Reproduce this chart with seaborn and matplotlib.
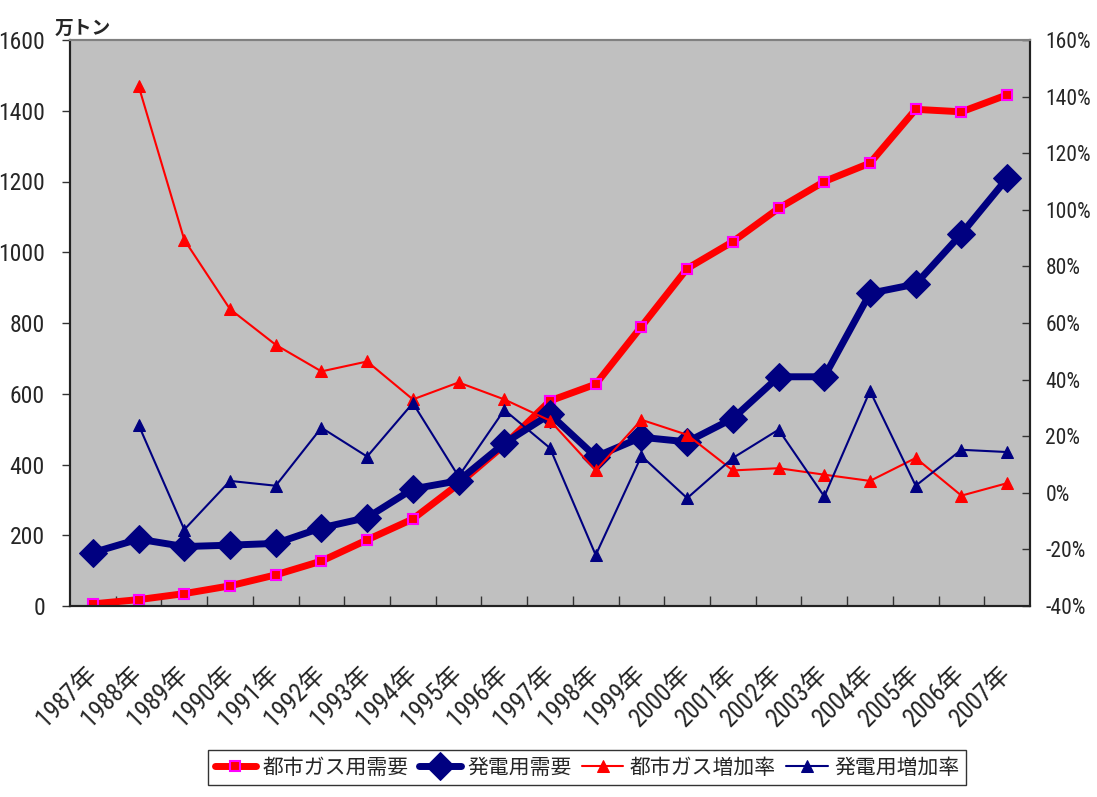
import numpy as np
import pandas as pd
import matplotlib
matplotlib.use("Agg")
import matplotlib.pyplot as plt
from matplotlib import font_manager
from matplotlib.ticker import FixedLocator, FuncFormatter
import seaborn as sns

years = list(range(1987, 2008))
year_labels = [f"{y}年" for y in years]

# 需要量（万トン）
gas_demand = [6, 18, 35, 57, 88, 127, 187, 246, 345, 455, 580,
              627, 790, 954, 1030, 1124, 1200, 1252, 1404, 1397, 1445]
power_demand = [151, 189, 168, 172, 177, 221, 250, 331, 354, 460, 542,
                422, 477, 464, 530, 648, 648, 884, 910, 1052, 1209]

# 前年比増加率（%）
gas_growth = [np.nan, 143.8, 89.4, 64.9, 52.3, 42.9, 46.4, 33.0, 39.0, 33.0, 25.5,
              7.9, 25.8, 20.5, 7.9, 8.7, 6.4, 4.2, 12.3, -1.0, 3.4]
power_growth = [np.nan, 24.0, -13.0, 4.2, 2.5, 23.0, 12.8, 31.7, 5.8, 29.3, 15.8,
                -22.0, 13.0, -1.9, 12.3, 22.3, -1.3, 36.0, 2.5, 15.2, 14.4]

series_names = ["都市ガス用需要", "発電用需要", "都市ガス増加率", "発電用増加率"]

sns.set_theme(style="white")

# Prefer a narrow sans for the numerals; CJK glyphs fall through to Noto Sans CJK JP
installed = {f.name for f in font_manager.fontManager.ttflist}
narrow = None
for cand in ["Roboto Condensed", "Liberation Sans Narrow", "DejaVu Sans Condensed",
             "Noto Sans Condensed", "Open Sans Condensed"]:
    if cand in installed:
        narrow = cand
        break
num_family = ([narrow] if narrow else []) + ["Noto Sans CJK JP", "DejaVu Sans"]
plt.rcParams["font.family"] = num_family

df = pd.DataFrame({
    "year": years,
    "gas": gas_demand,
    "power": power_demand,
    "gas_g": gas_growth,
    "power_g": power_growth,
})

fig = plt.figure(figsize=(10.97, 7.97), dpi=100)
ax = fig.add_axes([70 / 1097, 1 - 606 / 797, 960 / 1097, 566 / 797])
ax.set_facecolor("#C0C0C0")

navy = "#000080"
red = "#FF0000"

sns.lineplot(data=df, x="year", y="gas", ax=ax, color=red, linewidth=5,
             marker="s", markersize=7, markerfacecolor=red,
             markeredgecolor="#FF00FF", markeredgewidth=1.5,
             label=series_names[0], legend=False)
sns.lineplot(data=df, x="year", y="power", ax=ax, color=navy, linewidth=5,
             marker="D", markersize=14, markerfacecolor=navy,
             markeredgecolor=navy, label=series_names[1], legend=False)

ax2 = ax.twinx()
growth = df.dropna()
sns.lineplot(data=growth, x="year", y="gas_g", ax=ax2, color=red, linewidth=1.5,
             marker="^", markersize=9, markerfacecolor=red, markeredgecolor=red,
             label=series_names[2], legend=False)
sns.lineplot(data=growth, x="year", y="power_g", ax=ax2, color=navy, linewidth=1.5,
             marker="^", markersize=9, markerfacecolor=navy, markeredgecolor=navy,
             label=series_names[3], legend=False)

ax.set_xlim(years[0] - 0.5, years[-1] + 0.5)
ax.set_ylim(0, 1600)
ax2.set_ylim(-40, 160)

ax.set_xlabel("")
ax.set_ylabel("")
ax2.set_ylabel("")

tick_size = 17 if narrow else 13

# x axis: labels at category centres, tick marks at boundaries
ax.set_xticks(years)
ax.set_xticklabels(year_labels, rotation=45, ha="right", va="center",
                   rotation_mode="anchor", fontsize=tick_size + 1)
ax.tick_params(axis="x", which="major", length=0, pad=46)
ax.xaxis.set_minor_locator(FixedLocator([y + 0.5 for y in years[:-1]]))
ax.tick_params(axis="x", which="minor", direction="in", length=7, width=1, color="#333333",
               bottom=True)

ax.set_yticks(np.arange(0, 1601, 200))
ax.tick_params(axis="y", which="major", direction="out", length=6, width=1,
               color="#333333", labelsize=tick_size, pad=12, left=True)

ax2.set_yticks(np.arange(-40, 161, 20))
ax2.yaxis.set_major_formatter(FuncFormatter(lambda v, p: f"{int(v)}%"))
ax2.tick_params(axis="y", which="major", direction="in", length=6, width=1,
                color="#333333", labelsize=tick_size - 1.5, pad=11, right=True)

for a in (ax, ax2):
    for side in ("left", "right", "bottom"):
        a.spines[side].set_color("#222222")
        a.spines[side].set_linewidth(1.5)
    a.spines["top"].set_color("#808080")
    a.spines["top"].set_linewidth(1.5)

ax.text(-0.016, 1.003, "万トン", transform=ax.transAxes, fontsize=13.5, fontweight="bold",
        ha="left", va="bottom", family=["Noto Sans CJK JP"])

h1, l1 = ax.get_legend_handles_labels()
h2, l2 = ax2.get_legend_handles_labels()
leg = fig.legend(h1 + h2, l1 + l2, loc="upper center", ncol=4,
                 bbox_to_anchor=(587 / 1097, 1 - 740 / 797),
                 frameon=True, fancybox=False, edgecolor="black",
                 prop={"family": ["Noto Sans CJK JP"], "size": 15},
                 handlelength=2.0, handletextpad=0.3, columnspacing=0.5,
                 borderpad=0.3)
leg.get_frame().set_linewidth(1.0)

fig.savefig("out.png", dpi=100, facecolor="white")
